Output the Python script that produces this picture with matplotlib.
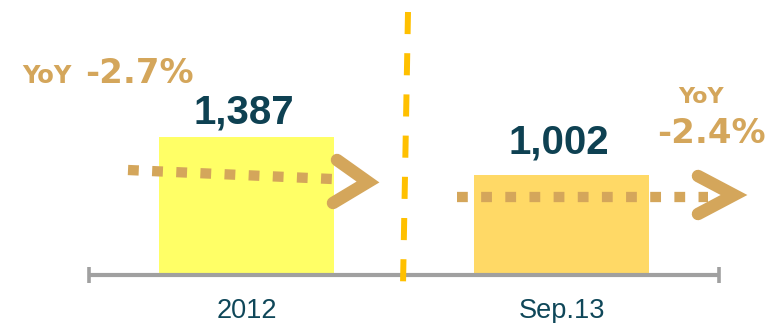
import matplotlib.pyplot as plt
import numpy as np

# значения по периодам
categories = ["2012", "Sep.13"]
values = [1387, 1002]
yoy_labels = ["-2.7%", "-2.4%"]
bar_colors = ["#FFFF66", "#FFD966"]

teal = "#0E4152"
tan = "#D4A65B"
gray = "#A0A0A0"
orange = "#FFC000"

W, H = 779, 323
fig = plt.figure(figsize=(W / 100, H / 100), dpi=100)
ax = fig.add_axes([0, 0, 1, 1])

# масштаб: 1 единица x = 315 px, высота столбца 1387 = 138 px
px_x = 315.0
s = values[0] / 138.0
x0_px = 246.5   # пиксель для x = 0
y0_px = 275.0   # пиксель (сверху) для y = 0
ax.set_xlim(-x0_px / px_x, (W - x0_px) / px_x)
ax.set_ylim(-(H - y0_px) * s, y0_px * s)
ax.axis("off")


def P(px, py):
    # пиксели картинки -> координаты данных
    return (px - x0_px) / px_x, (y0_px - py) * s


xs = np.arange(len(categories))
ax.bar(xs, values, width=0.556, color=bar_colors, zorder=1)

# ось с засечками по краям
ax.plot([-0.5, 1.5], [0, 0], color=gray, lw=3, solid_capstyle="butt", zorder=3)
ax.plot([-0.5, 1.5], [0, 0], ls="none", marker="|", ms=12, mew=2.6, color=gray, zorder=3)

# подписи категорий
for x, c in zip(xs, categories):
    ax.text(x, P(0, 318)[1], c, ha="center", va="baseline", fontsize=19.5,
            family="Liberation Sans", color="#0F4759", zorder=4)

# подписи значений над столбцами
label_gap = [14, 22]
for x, v, g in zip(xs, values, label_gap):
    ax.text(x - 0.01, v + g * s, f"{v:,}", ha="center", va="baseline", fontsize=29,
            family="Liberation Sans", fontweight="bold", color=teal, zorder=4)

# разделитель периодов
(xa, ya), (xb, yb) = P(408, 12), P(403, 285)
ax.plot([xa, xb], [ya, yb], color=orange, lw=4.3, dashes=(3.7, 3.2),
        solid_capstyle="butt", dash_capstyle="butt", zorder=5)

# пунктирные стрелки YoY
dots = [((128, 170), (332, 179)), ((457, 197), (708, 197))]
heads = [((337, 160), (368, 182), (333, 203)), ((698, 176), (734, 195), (698, 214))]
for (a, b), hd in zip(dots, heads):
    pa, pb = P(*a), P(*b)
    ax.plot([pa[0], pb[0]], [pa[1], pb[1]], color=tan, lw=7.4, dashes=(1.05, 1.3),
            dash_capstyle="butt", zorder=4)
    hx, hy = zip(*[P(*p) for p in hd])
    ax.plot(hx, hy, color=tan, lw=9, solid_capstyle="round",
            solid_joinstyle="miter", zorder=4)

# подписи YoY
ax.text(*P(22, 83), "YoY", ha="left", va="baseline", fontsize=17.5,
        fontweight="bold", color=tan)
ax.text(*P(85, 83), yoy_labels[0], ha="left", va="baseline", fontsize=24.5,
        fontweight="bold", color=tan)
ax.text(*P(701, 103), "YoY", ha="center", va="baseline", fontsize=16,
        fontweight="bold", color=tan)
ax.text(*P(711, 143), yoy_labels[1], ha="center", va="baseline", fontsize=24.5,
        fontweight="bold", color=tan)

fig.savefig("out.png", dpi=100)
